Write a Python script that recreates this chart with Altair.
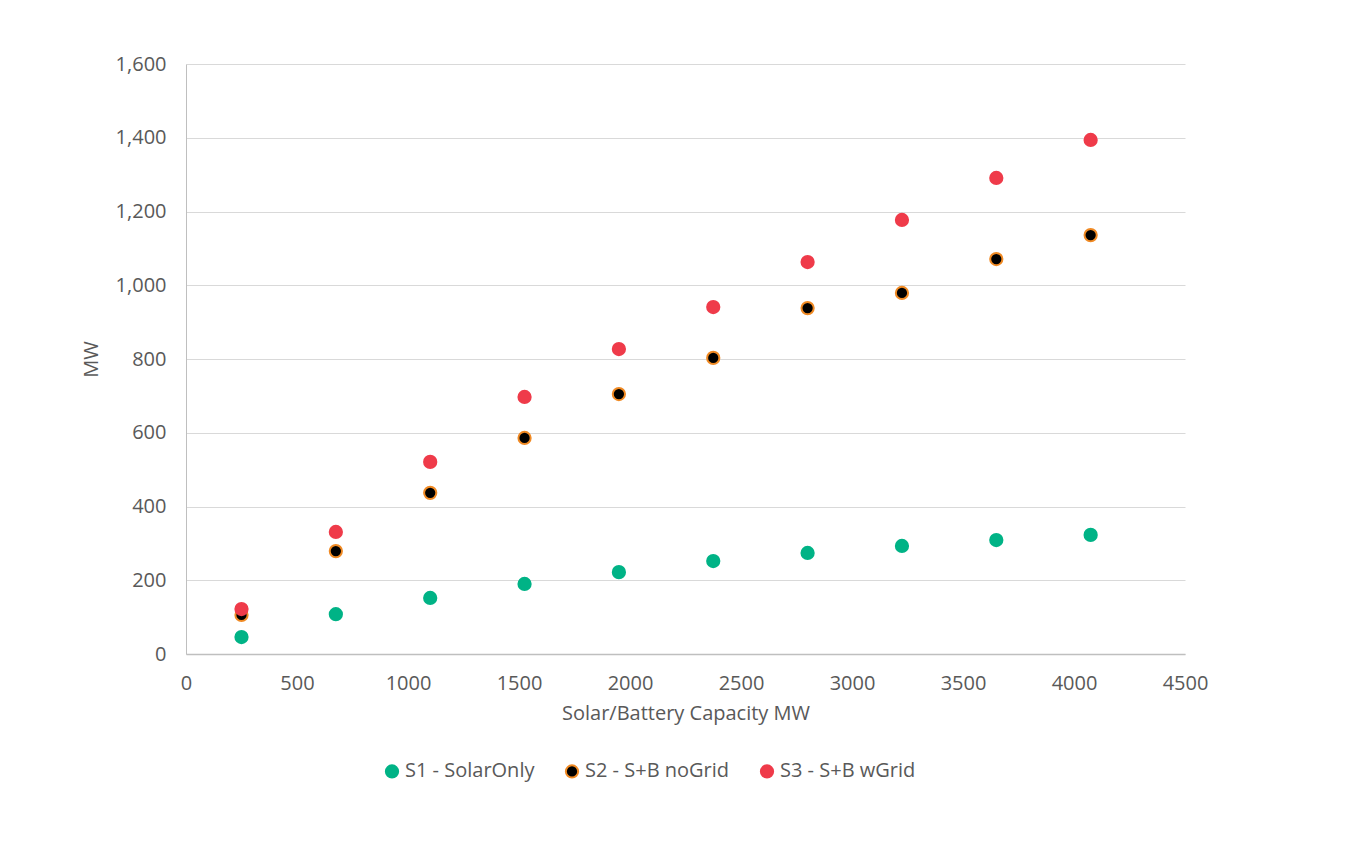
import altair as alt
import pandas as pd

capacity = [250, 675, 1100, 1525, 1950, 2375, 2800, 3225, 3650, 4075]
s1 = [46, 108, 152, 190, 222, 252, 274, 293, 309, 323]
s2 = [106, 279, 437, 586, 705, 803, 938, 979, 1071, 1136]
s3 = [122, 331, 521, 697, 827, 941, 1063, 1177, 1291, 1394]
series = ["S1 - SolarOnly", "S2 - S+B noGrid", "S3 - S+B wGrid"]

rows = []
for name, vals in zip(series, [s1, s2, s3]):
    for c, v in zip(capacity, vals):
        rows.append({"cap": c, "mw": v, "series": name})
df = pd.DataFrame(rows)

font = "Open Sans"
fs = 20
chart = alt.Chart(df).mark_point(filled=True, size=150, opacity=1, strokeWidth=2).encode(
    x=alt.X("cap:Q", title="Solar/Battery Capacity MW",
            scale=alt.Scale(domain=[0, 4500], nice=False),
            axis=alt.Axis(values=list(range(0, 4501, 500)), format="d", grid=False, ticks=False,
                          domainColor="#bfbfbf", domainWidth=1.5, labelColor="#595959",
                          labelFontSize=fs, labelFont=font, labelPadding=19,
                          titleColor="#595959", titleFontSize=fs, titleFont=font,
                          titleFontWeight="normal", titlePadding=10, labelFlush=False)),
    y=alt.Y("mw:Q", title="MW",
            scale=alt.Scale(domain=[0, 1600], nice=False),
            axis=alt.Axis(values=list(range(0, 1601, 200)), format=",.0f", grid=True,
                          gridColor="#d9d9d9", ticks=False, domain=True,
                          domainColor="#bfbfbf", labelColor="#595959",
                          labelFontSize=fs, labelFont=font, labelPadding=20,
                          titleColor="#595959", titleFontSize=fs, titleFont=font,
                          titleFontWeight="normal", titlePadding=14)),
    fill=alt.Fill("series:N", scale=alt.Scale(domain=series, range=["#00b386", "#000000", "#ef3b4a"]),
                  legend=alt.Legend(title=None, orient="none", direction="horizontal",
                                    legendX=196, legendY=697, labelFontSize=fs, labelFont=font,
                                    labelColor="#595959", symbolSize=150, columnPadding=26,
                                    symbolStrokeWidth=2, labelOffset=3)),
    stroke=alt.Stroke("series:N", scale=alt.Scale(domain=series, range=["#00b386", "#f08a24", "#ef3b4a"]),
                      legend=None),
).properties(
    width=999, height=590,
    autosize=alt.AutoSizeParams(type="none"),
    padding={"left": 178, "top": 56, "right": 150, "bottom": 180},
).configure_view(stroke=None).configure_axis(labelFont=font)

chart.save("out.html", embed_options={"renderer": "svg", "actions": False})
